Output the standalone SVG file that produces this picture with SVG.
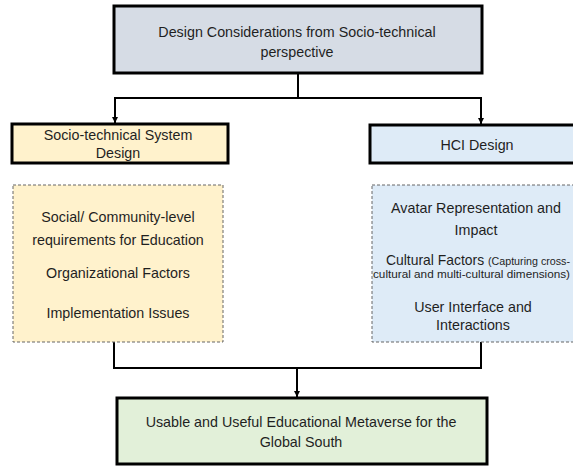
<svg xmlns="http://www.w3.org/2000/svg" width="573" height="466" viewBox="0 0 573 466">
<style>
.t{font-family:"Liberation Sans",Arial,sans-serif;font-size:14.3px;fill:#1f1f1f;text-anchor:middle}
.st{text-anchor:start}
.s{font-size:11px}
.box{stroke:#000;stroke-width:3}
.dash{stroke:#666;stroke-width:1;stroke-dasharray:3 2}
.c{fill:none;stroke:#000;stroke-width:2}
</style>
<defs>
<marker id="ah" markerWidth="8" markerHeight="8" refX="6" refY="4" orient="auto" markerUnits="userSpaceOnUse">
<path d="M0,1 L6,4 L0,7 Z" fill="#000"/>
</marker>
</defs>
<rect width="573" height="466" fill="#fff"/>
<g id="connectors">
<path class="c" d="M298,73 V98"/>
<path class="c" d="M115,98 H481"/>
<path class="c" d="M115,97 V123" marker-end="url(#ah)"/>
<path class="c" d="M481,97 V124" marker-end="url(#ah)"/>
<path class="c" d="M114,342 V368 H481 V342"/>
<path class="c" d="M297,368 V397" marker-end="url(#ah)"/>
</g>
<g id="top">
<rect class="box" x="114" y="6" width="368" height="67" fill="#D6DCE5"/>
<text class="t" x="297" y="37">Design Considerations from Socio-technical</text>
<text class="t" x="297" y="57">perspective</text>
</g>
<g id="sts">
<rect class="box" x="12" y="124" width="216" height="39" fill="#FFF2CC"/>
<text class="t" x="118" y="140">Socio-technical System</text>
<text class="t" x="118" y="158">Design</text>
</g>
<g id="hci">
<rect class="box" x="370" y="125" width="210" height="38" fill="#DEEBF7"/>
<text class="t" x="477" y="150">HCI Design</text>
</g>
<g id="sts-details">
<rect class="dash" x="13" y="185" width="210" height="157" fill="#FFF2CC"/>
<text class="t" x="118" y="222">Social/ Community-level</text>
<text class="t" x="118" y="245">requirements for Education</text>
<text class="t" x="118" y="278">Organizational Factors</text>
<text class="t" x="118" y="318">Implementation Issues</text>
</g>
<g id="hci-details">
<rect class="dash" x="372" y="185" width="210" height="157" fill="#DEEBF7"/>
<text class="t" x="476" y="213">Avatar Representation and</text>
<text class="t" x="476" y="235">Impact</text>
<text class="t st" x="386" y="265" textLength="184" lengthAdjust="spacingAndGlyphs">Cultural Factors <tspan class="s">(Capturing cross-</tspan></text>
<text class="t st s" x="373" y="278" textLength="197" lengthAdjust="spacingAndGlyphs">cultural and multi-cultural dimensions)</text>
<text class="t" x="473" y="312">User Interface and</text>
<text class="t" x="473" y="330">Interactions</text>
</g>
<g id="result">
<rect class="box" x="117" y="398" width="370" height="66" fill="#E2F0D9"/>
<text class="t" x="301" y="427">Usable and Useful Educational Metaverse for the</text>
<text class="t" x="301" y="447">Global South</text>
</g>
</svg>
